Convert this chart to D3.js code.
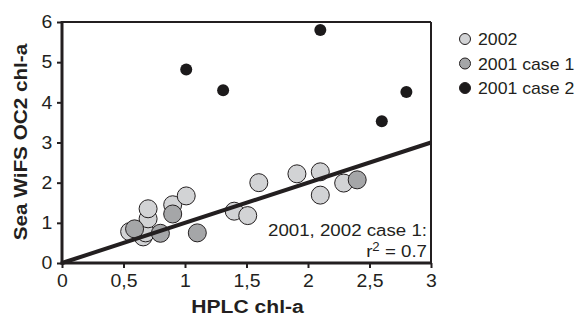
<!DOCTYPE html>
<html><head><meta charset="utf-8">
<script src="https://cdn.jsdelivr.net/npm/d3@7"></script>
<style>body{margin:0;background:#fff}svg{display:block}text{font-family:"Liberation Sans",Arial,sans-serif;fill:#231f20}</style>
</head><body><svg id="c" width="582" height="322"></svg>
<script>
const s2002 = [[0.55,0.78],[0.66,0.65],[0.68,0.75],[0.70,1.10],[0.70,1.35],[0.90,1.45],[1.01,1.67],[1.40,1.29],[1.51,1.18],[1.60,2.00],[1.91,2.22],[2.10,2.27],[2.10,1.69],[2.29,1.99]];
const s2001c1 = [[0.59,0.85],[0.80,0.74],[0.90,1.22],[1.10,0.75],[2.40,2.07]];
const s2001c2 = [[1.01,4.82],[1.31,4.30],[2.10,5.80],[2.60,3.53],[2.80,4.26]];
const fitLine = [[0,0],[3,3]];
const xTicks = [0,0.5,1,1.5,2,2.5,3];
const xTickLabels = ["0","0,5","1","1,5","2","2,5","3"];
const yTicks = [0,1,2,3,4,5,6];
const seriesNames = ["2002","2001 case 1","2001 case 2"];
const seriesColors = ["#d2d3d5","#a5a6a8","#1c1a1b"];

const svg = d3.select("#c");
const x = d3.scaleLinear().domain([0,3]).range([62,431]);
const y = d3.scaleLinear().domain([0,6]).range([263,22]);
const ink = "#231f20";

function label(parent, px, py, str, size, sx, anchor, bold, rot){
  const g = parent.append("g").attr("transform",`translate(${px},${py})${rot?` rotate(${rot})`:""} scale(${sx},1)`);
  const t = g.append("text").attr("text-anchor",anchor||"start").attr("font-size",size);
  if(bold) t.attr("font-weight","bold");
  t.text(str);
  return t;
}

// frame top/right
svg.append("line").attr("x1",x(0)).attr("x2",x(3)).attr("y1",y(6)).attr("y2",y(6)).attr("stroke",ink).attr("stroke-width",2);
svg.append("line").attr("x1",x(3)).attr("x2",x(3)).attr("y1",y(6)).attr("y2",y(0)).attr("stroke",ink).attr("stroke-width",2);

const xAxis = svg.append("g").attr("transform",`translate(0,${y(0)})`)
  .call(d3.axisBottom(x).tickValues(xTicks).tickFormat((d,i)=>xTickLabels[i]).tickSize(5).tickSizeOuter(0).tickPadding(6));
const yAxis = svg.append("g").attr("transform",`translate(${x(0)},0)`)
  .call(d3.axisLeft(y).tickValues(yTicks).tickFormat(d3.format("d")).tickSize(5).tickSizeOuter(0).tickPadding(4));
[xAxis,yAxis].forEach(a=>{
  a.select(".domain").attr("stroke",ink).attr("stroke-width",3);
  a.selectAll(".tick line").attr("stroke",ink).attr("stroke-width",2);
  a.selectAll(".tick text").attr("font-size",18).attr("fill",ink)
    .style("font-family","Liberation Sans, Arial, sans-serif").attr("transform","scale(1.08,1)");
});
xAxis.select(".domain").attr("d",`M${x(0)-1.5},0H${x(3)+1}`);
yAxis.select(".domain").attr("d",`M0,${y(0)+1.5}V${y(6)-1}`);

// points
const g = svg.append("g");
g.selectAll("circle.a").data(s2002).join("circle").attr("class","a")
  .attr("cx",d=>x(d[0])).attr("cy",d=>y(d[1])).attr("r",9)
  .attr("fill",seriesColors[0]).attr("stroke",ink).attr("stroke-width",1);
g.selectAll("circle.b").data(s2001c1).join("circle").attr("class","b")
  .attr("cx",d=>x(d[0])).attr("cy",d=>y(d[1])).attr("r",9)
  .attr("fill",seriesColors[1]).attr("stroke",ink).attr("stroke-width",1);
g.selectAll("circle.c").data(s2001c2).join("circle").attr("class","c")
  .attr("cx",d=>x(d[0])).attr("cy",d=>y(d[1])).attr("r",6)
  .attr("fill",seriesColors[2]);

// regression line
svg.append("path").datum(fitLine)
  .attr("d",d3.line().x(d=>x(d[0])).y(d=>y(d[1])))
  .attr("stroke",ink).attr("stroke-width",4).attr("fill","none");

// annotation
label(svg, 427, 236, "2001, 2002 case 1:", 17, 1.1, "end");
const ga = svg.append("g").attr("transform","translate(427,257) scale(1.1,1)");
const t2 = ga.append("text").attr("text-anchor","end").attr("font-size",17);
t2.append("tspan").text("r");
t2.append("tspan").attr("font-size",12).attr("dy",-6).text("2");
t2.append("tspan").attr("dy",6).text(" = 0.7");

// axis titles
label(svg, 247.5, 313, "HPLC chl-a", 18.5, 1.14, "middle", true);
label(svg, 27, 142, "Sea WiFS OC2 chl-a", 18.5, 1.12, "middle", true, -90);

// legend
const leg = svg.append("g");
seriesNames.forEach((n,i)=>{
  const cy = 39 + i*24.5;
  leg.append("circle").attr("cx",465).attr("cy",cy).attr("r",5.5)
    .attr("fill",seriesColors[i]).attr("stroke",ink).attr("stroke-width",1);
  label(leg, 478, cy+6.3, n, 17, 1.04, "start");
});
</script></body></html>
